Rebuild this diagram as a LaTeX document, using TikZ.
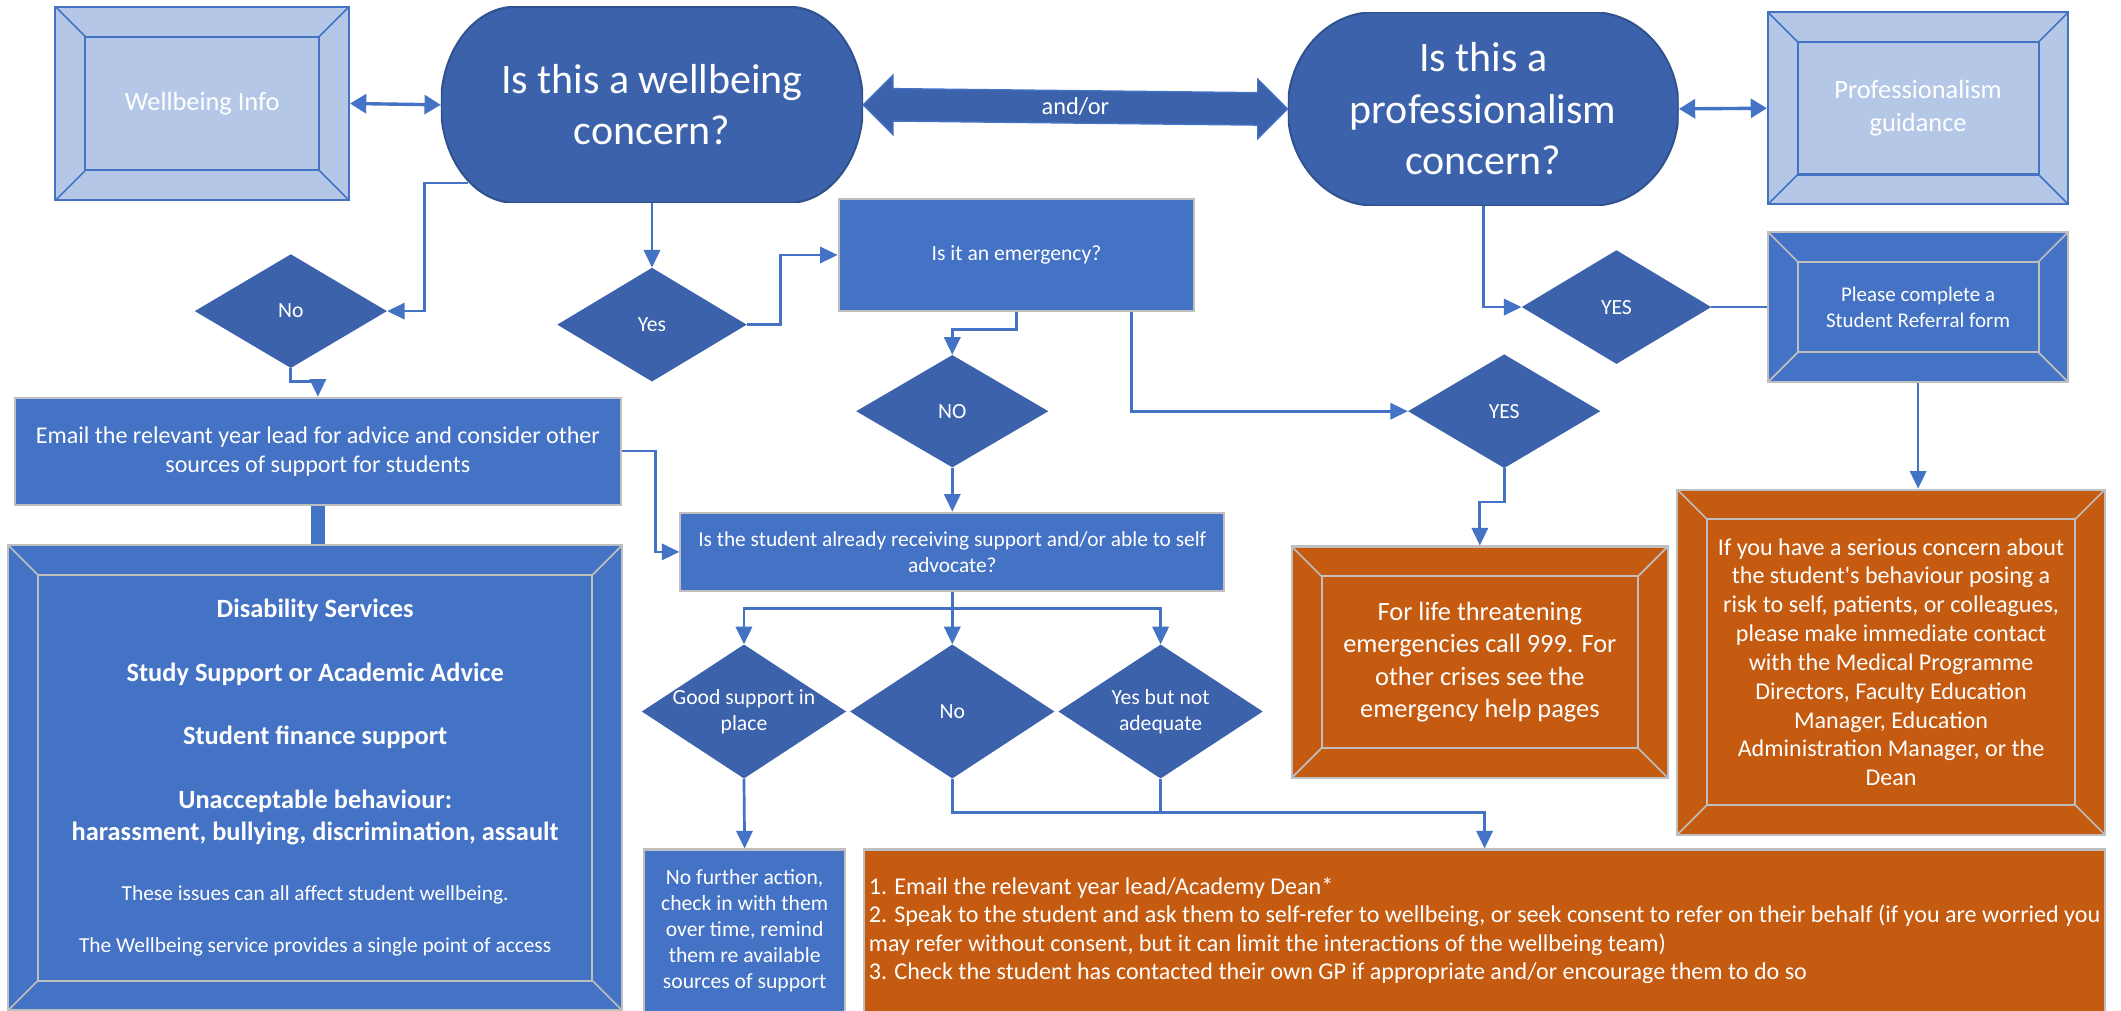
\documentclass[tikz,border=0pt]{standalone}
\usepackage{fontspec}
\setmainfont{Carlito}
\usepackage{xcolor}
\usepackage{tikz}
\usetikzlibrary{positioning,calc,arrows.meta}

\definecolor{darkblue}{HTML}{3C62AB}
\definecolor{midblue}{HTML}{4472C4}
\definecolor{paleblue}{HTML}{B4C7E7}
\definecolor{rust}{HTML}{C55A11}
\definecolor{edgegrey}{HTML}{BFBFBF}
\definecolor{pilledge}{HTML}{2F528F}

\begin{document}
\begin{tikzpicture}[x=1pt,y=-1pt,
		box/.style={draw=edgegrey, line width=1.5pt, fill=midblue, text=white, align=center, inner sep=0pt},
		bevel/.style={path picture={
				\draw[#1, line width=1.5pt] ([shift={(22pt,-22pt)}]path picture bounding box.north west) rectangle ([shift={(-22pt,22pt)}]path picture bounding box.south east);
				\draw[#1, line width=1.2pt] (path picture bounding box.north west) -- ++(22pt,-22pt)
				(path picture bounding box.north east) -- ++(-22pt,-22pt)
				(path picture bounding box.south west) -- ++(22pt,22pt)
				(path picture bounding box.south east) -- ++(-22pt,22pt);}},
		lightbox/.style={draw=midblue, line width=1.5pt, fill=paleblue, text=white, align=center, inner sep=0pt, bevel=midblue},
		rustbox/.style={box, fill=rust, bevel=edgegrey},
		decision/.style={text=white, align=center, inner sep=0pt, font=\fontsize{16}{19.5}\selectfont,
			path picture={\fill[darkblue] (path picture bounding box.north) -- (path picture bounding box.east) -- (path picture bounding box.south) -- (path picture bounding box.west) -- cycle;}},
		pill/.style 2 args={text=white, align=center, inner sep=0pt, font=\fontsize{31}{38}\selectfont,
			path picture={\filldraw[fill=darkblue, draw=pilledge, line width=1.5pt]
				([xshift=#1]path picture bounding box.north west) -- ([xshift=-#1]path picture bounding box.north east)
				arc[start angle=90, end angle=-90, x radius=#1, y radius=#2]
				-- ([xshift=#1]path picture bounding box.south west)
				arc[start angle=270, end angle=90, x radius=#1, y radius=#2] -- cycle;}},
		flow/.style={draw=midblue, line width=2pt, -{Triangle[length=13pt,width=12pt]}},
		both/.style={draw=midblue, line width=2.5pt, {Triangle[length=12pt,width=14pt]}-{Triangle[length=12pt,width=14pt]}},
	]
	\useasboundingbox[fill=white] (0,0) rectangle (1568,747);
	
	% top row
	\node[lightbox, minimum width=217pt, minimum height=143pt, font=\fontsize{19.5}{24}\selectfont] (wbinfo) at (149.5,76.5) {Wellbeing Info};
	\node[pill={55pt}{72.5pt}, minimum width=312pt, minimum height=145pt] (wbq) at (482,77.5) {Is this a wellbeing\\concern?};
	\node[pill={64pt}{71.5pt}, minimum width=289pt, minimum height=143pt] (profq) at (1096.5,80.5) {Is this a\\professionalism\\concern?};
	\node[lightbox, minimum width=222pt, minimum height=142pt, font=\fontsize{19.5}{24}\selectfont] (profguide) at (1418,80) {Professionalism\\guidance};
	
	\draw[both] (wbinfo.east) -- (wbq.west);
	\draw[both] (profq.east) -- (profguide.west);
	\filldraw[fill=darkblue, draw=midblue, line width=1pt] (wbq.east) -- ++(22,-22) -- ++(0,10) -- ($(profq.west)+(-22,-12)$) -- ++(0,-10) -- (profq.west)
		-- ++(-22,22) -- ++(0,-10) -- ($(wbq.east)+(22,12)$) -- ++(0,10) -- cycle;
	\node[text=white, font=\fontsize{18}{22}\selectfont] (andor) at ($(wbq.east)!0.5!(profq.west)$) {and/or};
	
	% decisions
	\node[decision, minimum width=142pt, minimum height=84pt] (wbno) at (215,230) {No};
	\node[decision, minimum width=140pt, minimum height=84pt] (wbyes) at (482,240) {Yes};
	\node[box, minimum width=263pt, minimum height=83pt, font=\fontsize{16}{19.5}\selectfont] (emq) at (751.5,188.5) {Is it an emergency?};
	\node[decision, minimum width=142pt, minimum height=83pt] (emerno) at (704,304) {NO};
	\node[decision, minimum width=142pt, minimum height=84pt] (emeryes) at (1112,304) {YES};
	\node[decision, minimum width=140pt, minimum height=84pt] (profyes) at (1195,227) {YES};
	\node[box, bevel=edgegrey, minimum width=222pt, minimum height=111pt, font=\fontsize{15.5}{19.5}\selectfont] (referral) at (1418,227) {Please complete a\\Student Referral form};
	
	% left column
	\node[box, minimum width=448pt, minimum height=79pt, font=\fontsize{17.8}{21.5}\selectfont] (email) at (235,333.5) {Email the relevant year lead for advice and consider other\\sources of support for students};
	\node[box, bevel=edgegrey, minimum width=454pt, minimum height=344pt, font=\bfseries\fontsize{19.5}{24}\selectfont] (support) at (233,575) {Disability Services\\[23pt]
		Study Support or Academic Advice\\[23pt]
		Student finance support\\[23pt]
		Unacceptable behaviour:\\
		harassment, bullying, discrimination, assault\\[20pt]
		{\mdseries\fontsize{15.8}{18}\selectfont These issues can all affect student wellbeing.}\\[15pt]
		{\mdseries\fontsize{15.8}{18}\selectfont The Wellbeing service provides a single point of access}};
	
	% middle
	\node[box, minimum width=402pt, minimum height=58pt, font=\fontsize{15.8}{19.5}\selectfont] (student) at (704,408) {Is the student already receiving support and/or able to self\\advocate?};
	\node[decision, minimum width=151pt, minimum height=99pt] (good) at (550,526) {Good support in\\place};
	\node[decision, minimum width=151pt, minimum height=99pt] (stuno) at (704,526) {No};
	\node[decision, minimum width=151pt, minimum height=99pt] (yesbut) at (858,526) {Yes but not\\adequate};
	\node[box, minimum width=149pt, minimum height=120pt, font=\fontsize{16}{19.3}\selectfont] (nofurther) at (550.5,688) {No further action,\\check in with them\\over time, remind\\them re available\\sources of support};
	\node[box, fill=rust, minimum width=917pt, minimum height=120pt, align=left, font=\fontsize{17.8}{21}\selectfont] (actions) at (1097.5,688) {1. Email the relevant year lead/Academy Dean*\\
		2. Speak to the student and ask them to self-refer to wellbeing, or seek consent to refer on their behalf (if you are worried you\\
		may refer without consent, but it can limit the interactions of the wellbeing team)\\
		3. Check the student has contacted their own GP if appropriate and/or encourage them to do so};
	
	% right
	\node[rustbox, minimum width=278pt, minimum height=171pt, font=\fontsize{19.5}{23.8}\selectfont] (emerbox) at (1094,489.5) {For life threatening\\emergencies call 999. For\\other crises see the\\emergency help pages};
	\node[rustbox, minimum width=316pt, minimum height=255pt, font=\fontsize{17.8}{21.3}\selectfont] (serious) at (1398,489.5) {If you have a serious concern about\\the student\textquotesingle s behaviour posing a\\risk to self, patients, or colleagues,\\please make immediate contact\\with the Medical Programme\\Directors, Faculty Education\\Manager, Education\\Administration Manager, or the\\Dean};
	
	% connectors
	\draw[flow] ($(wbq.south west)+(20,-15)$) -- ++(-32,0) |- (wbno.east);
	\draw[flow] (wbno.south) -- ++(0,10) -| (email.north);
	\draw[flow] (wbq.south) -- (wbyes.north);
	\draw[flow] (wbyes.east) -- ++(25,0) |- (emq.west);
	\draw[flow] (emq.south) -- ++(0,13) -| (emerno.north);
	\draw[flow] ($(emq.south)+(85,0)$) |- (emeryes.west);
	\draw[flow] (emerno.south) -- (student.north);
	\draw[flow] (email.east) -- ++(25,0) |- (student.west);
	\draw[midblue, line width=10pt] (email.south) -- (email.south |- support.north);
	\foreach \d in {good,stuno,yesbut} {
		\draw[flow] (student.south) -- ++(0,12) -| (\d.north);
	}
	\draw[flow] (good.south) -- (nofurther.north);
	\draw[flow] (stuno.south) -- ++(0,25) -| (actions.north);
	\draw[midblue, line width=2pt] (yesbut.south) -- ++(0,25);
	\draw[flow] (emeryes.south) -- ++(0,25) -| (emerbox.north);
	\draw[flow] (profq.south) |- (profyes.west);
	\draw[midblue, line width=2pt] (profyes.east) -- (referral.west);
	\draw[flow] (referral.south) -- (referral.south |- serious.north);
\end{tikzpicture}
\end{document}
